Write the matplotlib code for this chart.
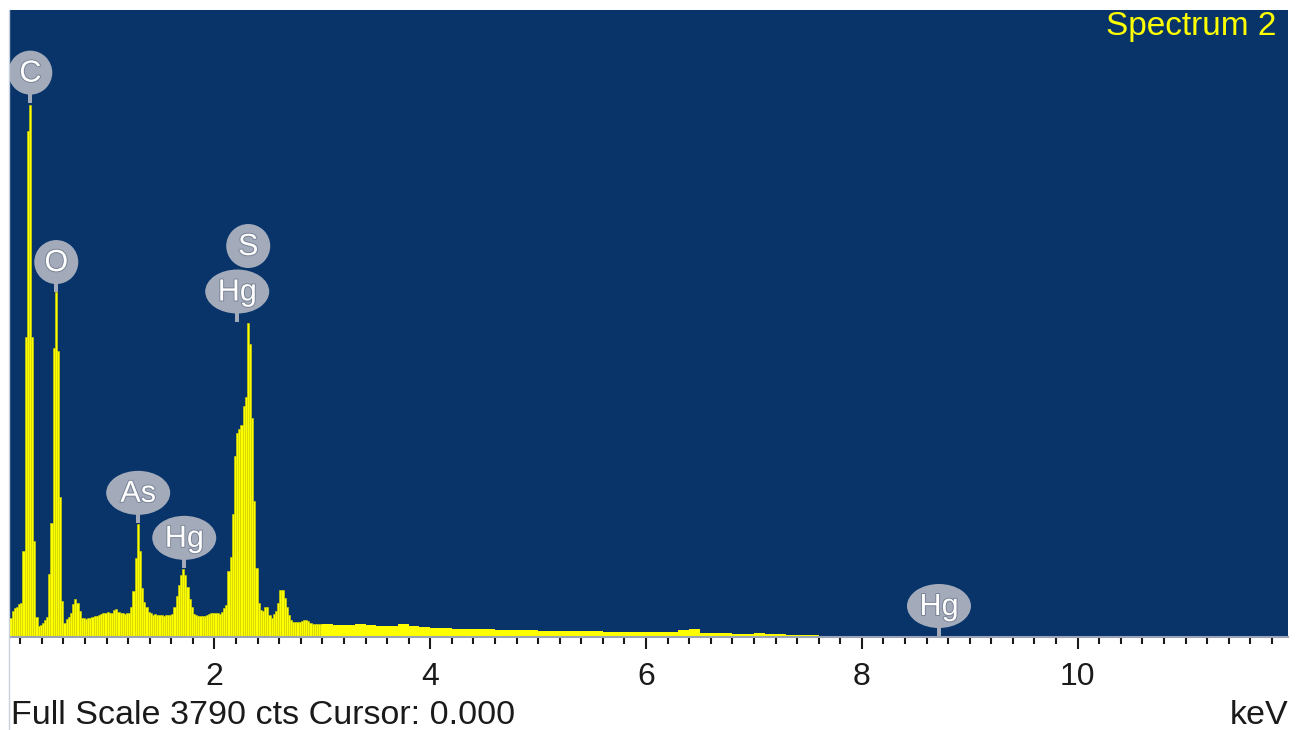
"""EDS spectrum (Spectrum 2) redrawn in the style of an INCA screen capture."""

import matplotlib
matplotlib.use("Agg")
import matplotlib.pyplot as plt
import matplotlib.patheffects as pe
from matplotlib.lines import Line2D
from matplotlib.patches import Ellipse, Rectangle
from matplotlib.ticker import MultipleLocator
from matplotlib.transforms import ScaledTranslation
import numpy as np

plt.rcParams["font.family"] = ["Liberation Sans", "DejaVu Sans"]

BG_BLUE = "#08346a"
YELLOW = "#ffff00"
BAR_EDGE = "#d9d900"
BUBBLE = "#a3abbb"
FULL_SCALE = 3790

# counts in 0.02 keV channels, 0.10 .. 3.00 keV
fine_start_kev = 0.10
fine_width_kev = 0.02
fine_counts = [
    115, 157, 175, 182, 200, 206, 520, 1815, 3061, 3213,
    1815, 581, 121, 67, 73, 85, 103, 121, 381, 690,
    1748, 2087, 1730, 847, 218, 85, 109, 121, 145, 200,
    230, 206, 157, 115, 115, 109, 115, 115, 121, 127,
    127, 133, 139, 145, 145, 151, 145, 145, 163, 169,
    151, 145, 145, 139, 145, 145, 182, 278, 478, 684,
    520, 296, 212, 182, 151, 145, 133, 139, 133, 133,
    133, 127, 133, 133, 133, 139, 182, 248, 315, 375,
    411, 375, 303, 230, 182, 139, 133, 127, 127, 127,
    127, 133, 139, 145, 145, 145, 145, 139, 151, 175,
    194, 399, 484, 744, 1095, 1234, 1258, 1283, 1398, 1452,
    1900, 1773, 1325, 823, 417, 206, 163, 157, 182, 182,
    133, 115, 139, 157, 206, 284, 284, 236, 182, 133,
    103, 91, 91, 91, 91, 97, 103, 103, 97, 85,
    79, 79, 79, 79, 79,
]

# counts in 0.1 keV channels, 3.0 .. 9.1 keV
tail_start_kev = 3.0
tail_width_kev = 0.1
tail_counts = [
    79, 73, 73, 79, 73, 67, 67, 79, 67, 61,
    54, 54, 48, 48, 48, 48, 42, 42, 42, 42,
    39, 39, 36, 36, 36, 36, 30, 30, 30, 30,
    30, 30, 30, 42, 48, 27, 24, 24, 21, 21,
    27, 18, 18, 15, 12, 12, 9, 9, 9, 9,
    9, 9, 9, 9, 6, 6, 6, 6, 6, 6,
    6,
]

peak_labels = ["C", "O", "As", "Hg", "Hg", "S", "Hg"]
peak_kev = [0.293, 0.534, 1.293, 1.72, 2.211, 2.313, 8.715]
peak_top_cts = [3230, 2085, 690, 418, 1907, 1907, 6]
label_level = [0, 0, 0, 0, 0, 1, 0]

x_range = (0.105, 11.95)
major_ticks = [2, 4, 6, 8, 10]


def draw_peak_label(ax, label, kev, top, level):
    trans = ax.figure.dpi_scale_trans + ScaledTranslation(kev, top, ax.transData)
    width = 0.44 if len(label) == 1 else 0.64
    height = 0.44
    cy = 0.30 + 0.455 * level
    z = 5 if level == 0 else 4.5
    if level == 0:
        ax.add_patch(Rectangle((-0.022, 0.0), 0.044, 0.14, transform=trans,
                               facecolor=BUBBLE, linewidth=0, zorder=z))
    ax.add_patch(Ellipse((0.0, cy), width, height, transform=trans,
                         facecolor=BUBBLE, linewidth=0, zorder=z))
    ax.text(0.0, cy - 0.01, label, transform=trans, ha="center", va="center",
            fontsize=22, color="white", zorder=z + 0.1,
            path_effects=[pe.withStroke(linewidth=1.4, foreground="#7a8496")])


fig = plt.figure(figsize=(13.02, 7.30), dpi=100)
ax = fig.add_axes([10 / 1302, 93 / 730, 1278 / 1302, 627 / 730])
ax.set_facecolor(BG_BLUE)

fine_kev = fine_start_kev + fine_width_kev * np.arange(len(fine_counts))
tail_kev = tail_start_kev + tail_width_kev * np.arange(len(tail_counts))
ax.bar(fine_kev, fine_counts, width=fine_width_kev, align="edge",
       color=YELLOW, edgecolor=BAR_EDGE, linewidth=0.4, zorder=2)
ax.bar(tail_kev, tail_counts, width=tail_width_kev, align="edge",
       color=YELLOW, linewidth=0, zorder=2)

ax.set_xlim(*x_range)
ax.set_ylim(0, FULL_SCALE)

for label, kev, top, level in zip(peak_labels, peak_kev, peak_top_cts, label_level):
    draw_peak_label(ax, label, kev, top, level)

ax.set_xticks(major_ticks)
ax.set_xticklabels([str(t) for t in major_ticks])
ax.xaxis.set_minor_locator(MultipleLocator(0.2))
ax.tick_params(axis="x", which="major", direction="out", length=8.6, width=1.5,
               color="#1a1a1a", labelsize=23, pad=9.5, labelcolor="#1a1a1a")
ax.tick_params(axis="x", which="minor", direction="out", length=5, width=1.5,
               color="#1a1a1a")
ax.set_yticks([])
for side in ("top", "right", "left"):
    ax.spines[side].set_visible(False)
ax.spines["bottom"].set_color("#9aa4b4")
ax.spines["bottom"].set_linewidth(1.5)

fig.add_artist(Line2D([9 / 1302, 9 / 1302], [0, 720 / 730],
                      color="#c9d1dd", linewidth=1.0))

fig.text(1276 / 1302, 1 - 26 / 730, "Spectrum 2", ha="right", va="center",
         fontsize=24, color=YELLOW)
fig.text(11 / 1302, 6 / 730, "Full Scale 3790 cts Cursor: 0.000",
         ha="left", va="baseline", fontsize=24.5, color="#1a1a1a")
fig.text(1288 / 1302, 6 / 730, "keV", ha="right", va="baseline",
         fontsize=24.5, color="#1a1a1a")

fig.savefig("out.png", dpi=100, facecolor="white")
